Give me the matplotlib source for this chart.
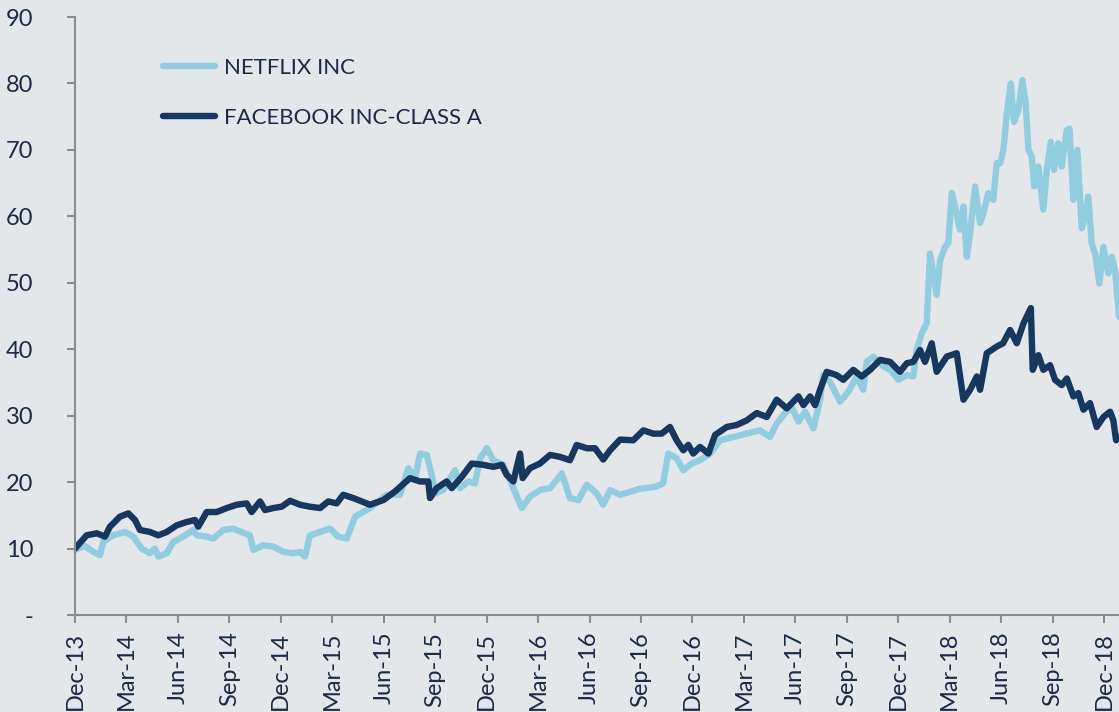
import matplotlib
matplotlib.use("Agg")
import matplotlib.pyplot as plt

# ==========================================
# DATA (rebased prices, x = months since Dec-13)
# ==========================================
fb_month = [0.0, 0.68, 1.27, 1.75, 2.04, 2.62, 3.11, 3.50, 3.79, 4.37, 4.86, 5.35, 5.93,
            6.51, 7.00, 7.19, 7.68, 8.26, 8.85, 9.43, 10.01, 10.30, 10.79, 11.08, 11.56,
            12.05, 12.54, 13.12, 13.70, 14.29, 14.77, 15.26, 15.64, 16.23, 17.20, 17.98,
            18.66, 19.53, 20.12, 20.60, 20.70, 21.09, 21.67, 21.97, 22.55, 23.13, 23.81,
            24.39, 24.88, 25.17, 25.56, 25.95, 26.10, 26.53, 27.11, 27.70, 28.28, 28.86,
            29.25, 29.84, 30.32, 30.80, 31.20, 31.78, 32.55, 33.14, 33.72, 34.21, 34.69,
            35.08, 35.47, 35.76, 36.05, 36.44, 36.93, 37.32, 38.00, 38.58, 39.17, 39.75,
            40.33, 40.91, 41.50, 42.18, 42.47, 42.86, 43.15, 43.44, 43.83, 44.41, 44.80,
            45.38, 45.87, 46.36, 46.94, 47.52, 48.10, 48.50, 48.88, 49.27, 49.56, 49.95,
            50.24, 50.83, 51.41, 51.80, 52.19, 52.58, 52.77, 53.16, 53.74, 54.11, 54.52,
            54.91, 55.30, 55.73, 55.84, 56.17, 56.46, 56.85, 57.14, 57.53, 57.83, 58.21,
            58.50, 58.80, 59.18, 59.57, 59.96, 60.35, 60.54, 60.70, 60.87]
fb_value = [10.0, 12.0, 12.3, 11.8, 13.3, 14.8, 15.3, 14.3, 12.8, 12.5, 12.0, 12.5, 13.5,
            14.0, 14.3, 13.3, 15.5, 15.5, 16.1, 16.6, 16.8, 15.5, 17.1, 15.8, 16.1,
            16.3, 17.2, 16.6, 16.3, 16.1, 17.1, 16.8, 18.1, 17.6, 16.6, 17.3,
            18.6, 20.6, 20.1, 20.1, 17.6, 19.1, 20.1, 19.1, 20.8, 22.8, 22.6,
            22.3, 22.6, 21.1, 20.1, 24.3, 20.6, 22.1, 22.8, 24.1, 23.8, 23.3,
            25.6, 25.1, 25.1, 23.4, 24.8, 26.4, 26.3, 27.8, 27.3, 27.3, 28.3,
            26.3, 24.8, 25.6, 24.3, 25.3, 24.3, 27.1, 28.3, 28.6, 29.3, 30.4,
            29.8, 32.4, 31.1, 32.9, 31.6, 32.9, 31.6, 33.9, 36.6, 36.1, 35.4,
            36.9, 35.9, 36.9, 38.4, 38.1, 36.6, 37.9, 38.1, 39.9, 38.1, 40.9,
            36.6, 38.9, 39.4, 32.4, 33.9, 35.9, 33.9, 39.4, 40.4, 40.9, 42.9,
            40.9, 43.9, 46.2, 36.9, 39.1, 36.9, 37.6, 35.4, 34.6, 35.6, 32.9,
            33.4, 30.9, 31.9, 28.3, 29.8, 30.6, 29.3, 26.3, 26.8]

nflx_month = [0.0, 0.58, 1.07, 1.46, 1.65, 2.23, 2.92, 3.40, 3.89, 4.37, 4.66, 4.86, 5.35,
              5.73, 6.31, 6.90, 7.10, 7.68, 8.06, 8.65, 9.23, 9.72, 10.20, 10.40, 10.98,
              11.56, 12.15, 12.73, 13.12, 13.41, 13.70, 14.29, 14.87, 15.35, 15.84, 16.33,
              17.20, 18.18, 18.95, 19.43, 19.83, 20.12, 20.51, 20.80, 20.99, 21.47, 22.16,
              22.45, 22.93, 23.32, 23.62, 24.01, 24.39, 24.97, 25.56, 26.05, 26.53, 27.11,
              27.70, 28.38, 28.86, 29.35, 29.84, 30.42, 30.80, 31.20, 31.78, 32.94, 33.82,
              34.29, 34.59, 35.08, 35.47, 35.96, 36.44, 37.03, 37.61, 38.38, 39.17, 39.94,
              40.52, 40.91, 41.40, 41.79, 42.18, 42.57, 43.05, 43.44, 43.63, 44.02, 44.61,
              45.09, 45.58, 45.96, 46.16, 46.55, 47.13, 47.52, 48.01, 48.50, 48.88, 49.07,
              49.37, 49.66, 49.85, 50.05, 50.24, 50.44, 50.73, 50.92, 51.12, 51.31, 51.60,
              51.80, 51.99, 52.19, 52.48, 52.77, 52.96, 53.25, 53.54, 53.74, 53.94, 54.13,
              54.33, 54.56, 54.75, 55.00, 55.24, 55.43, 55.59, 55.78, 55.93, 56.17, 56.46,
              56.66, 56.89, 57.08, 57.33, 57.53, 57.83, 57.98, 58.21, 58.44, 58.70, 58.89,
              59.08, 59.28, 59.48, 59.73, 59.96, 60.25, 60.45, 60.64, 60.87]
nflx_value = [9.8, 10.4, 9.5, 9.0, 11.0, 12.0, 12.5, 11.8, 10.0, 9.3, 10.0, 8.8, 9.3,
              11.0, 11.8, 12.8, 12.0, 11.8, 11.5, 12.8, 13.0, 12.5, 12.0, 9.8, 10.5,
              10.3, 9.5, 9.3, 9.5, 8.8, 12.0, 12.5, 13.0, 11.8, 11.5, 14.8,
              16.1, 18.1, 18.1, 22.1, 20.6, 24.3, 24.1, 21.1, 18.3, 18.8, 21.8,
              19.1, 20.1, 19.8, 23.6, 25.1, 23.3, 22.6, 19.1, 16.1, 17.8, 18.8,
              19.1, 21.3, 17.6, 17.3, 19.6, 18.3, 16.6, 18.8, 18.1, 19.0, 19.3,
              19.8, 24.3, 23.6, 21.8, 22.8, 23.3, 24.3, 26.3, 26.8, 27.3, 27.8,
              26.8, 28.8, 30.4, 31.3, 29.1, 30.6, 28.1, 32.4, 36.1, 35.1, 32.1,
              33.6, 35.9, 33.9, 38.1, 38.9, 37.4, 36.9, 35.4, 36.1, 35.9, 39.9,
              42.4, 43.9, 54.4, 51.4, 48.2, 53.4, 55.4, 56.0, 63.5, 61.5, 58.0,
              61.5, 53.9, 57.5, 64.5, 59.0, 60.5, 63.5, 62.5, 68.0, 68.0, 70.0,
              75.5, 80.0, 74.2, 76.0, 80.5, 77.0, 70.0, 69.0, 64.5, 67.5, 61.0,
              67.0, 71.2, 67.0, 71.0, 67.5, 73.0, 73.2, 62.5, 70.0, 58.2, 60.0,
              63.0, 55.9, 54.4, 49.9, 55.4, 51.4, 53.9, 51.9, 44.9]

tick_months = list(range(0, 61, 3))
tick_labels = ["Dec-13", "Mar-14", "Jun-14", "Sep-14", "Dec-14", "Mar-15", "Jun-15",
               "Sep-15", "Dec-15", "Mar-16", "Jun-16", "Sep-16", "Dec-16", "Mar-17",
               "Jun-17", "Sep-17", "Dec-17", "Mar-18", "Jun-18", "Sep-18", "Dec-18"]
y_ticks = list(range(0, 91, 10))
y_labels = ["-"] + [str(v) for v in y_ticks[1:]]

# ==========================================
# PLOT
# ==========================================
bg = "#e4e7ea"
txt = "#1b2a47"
plt.rcParams["font.family"] = ["Lato", "DejaVu Sans"]

fig = plt.figure(figsize=(11.19, 7.12), dpi=100, facecolor=bg)
ax = fig.add_axes([0.067, 0.1362, 0.933, 0.8399])
ax.set_facecolor(bg)

ax.plot(nflx_month, nflx_value, color="#92cddf", linewidth=4.6, label="NETFLIX INC",
        solid_joinstyle="round", solid_capstyle="round")
ax.plot(fb_month, fb_value, color="#17375e", linewidth=4.6, label="FACEBOOK INC-CLASS A",
        solid_joinstyle="round", solid_capstyle="round")

ax.set_xlim(0, 60.87)
ax.set_ylim(0, 90)
ax.set_xticks(tick_months)
ax.set_xticklabels(tick_labels, rotation=90, fontsize=17, color=txt)
ax.set_yticks(y_ticks)
ax.set_yticklabels(y_labels, fontsize=17, color=txt)

for s in ["top", "right"]:
    ax.spines[s].set_visible(False)
for s in ["left", "bottom"]:
    ax.spines[s].set_color("#8c8c8c")
    ax.spines[s].set_linewidth(1.5)
ax.tick_params(axis="both", colors="#8c8c8c", length=6, width=1.5, labelcolor=txt)
ax.tick_params(axis="y", pad=24)
ax.tick_params(axis="x", pad=6)

ax.legend(loc="upper left", bbox_to_anchor=(0.084, 0.932), frameon=False, fontsize=16,
          handlelength=2.35, handletextpad=0.4, labelspacing=1.35, borderpad=0,
          borderaxespad=0, labelcolor=txt)

fig.savefig("out.png", dpi=100, facecolor=bg)
